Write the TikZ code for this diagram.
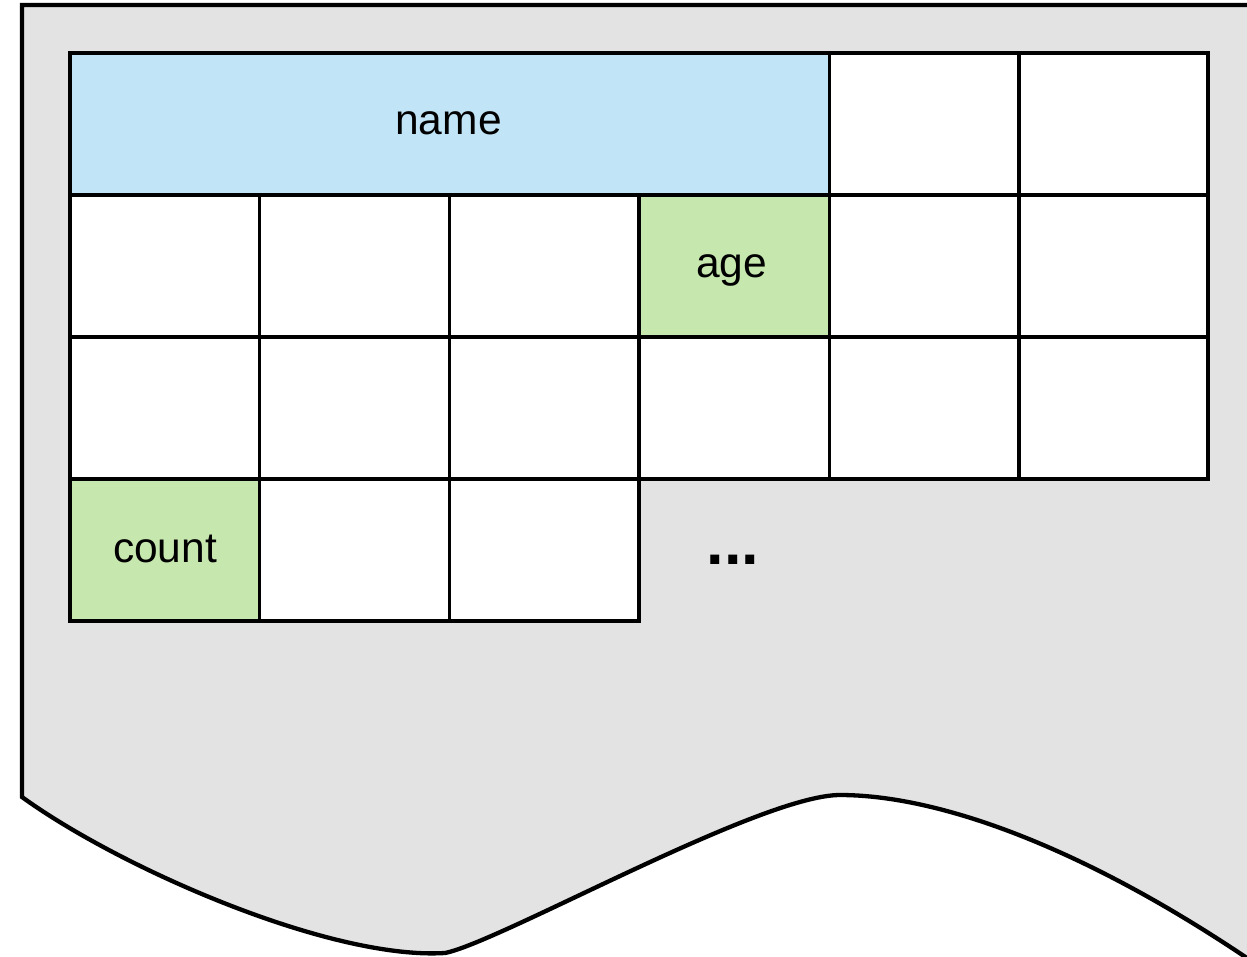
\documentclass[tikz,border=0pt]{standalone}
\usepackage{fontspec}
\setmainfont{Liberation Sans}
\definecolor{sheetgray}{HTML}{E3E3E3}
\definecolor{fieldblue}{HTML}{C1E4F6}
\definecolor{fieldgreen}{HTML}{C6E7AE}
\tikzset{
  outline/.style={line width=4.3pt, line join=miter},
  gridline/.style={line width=3.6pt, line cap=rect},
  celltext/.style={anchor=base, inner sep=0pt, font=\fontsize{42.5}{50}\selectfont},
}
\begin{document}
\begin{tikzpicture}[x=1pt, y=-1pt]
\useasboundingbox (0,0) rectangle (1247,956);
\clip (0,0) rectangle (1247,956);

% torn sheet behind the grid
\draw[outline, fill=sheetgray]
  (22,797) -- (22,5) -- (1320,5) -- (1320,1010)
  .. controls (1120,860) and (950,795) .. (840,795)
  .. controls (760,795) and (500,942) .. (445,953)
  .. controls (330,960) and (120,868) .. (22,797) -- cycle;

% coloured fields
\fill[fieldblue]  (70,53) rectangle (829.33,195);
\fill[fieldgreen] (639,195) rectangle (828.67,337);
\fill[fieldgreen] (70,479) rectangle (259.67,621);
\fill[white] (829.33,53) rectangle (1208,195);
\fill[white] (70,195) rectangle (639,337);
\fill[white] (828.67,195) rectangle (1208,337);
\fill[white] (70,337) rectangle (1208,479);
\fill[white] (259.67,479) rectangle (639,621);

% grid lines
\draw[gridline] (70,53) rectangle (1208,195);
\draw[gridline] (829.33,53) -- (829.33,479);
\draw[gridline] (1019,53) -- (1019,479);
\draw[gridline] (70,195) rectangle (1208,479);
\draw[gridline] (70,337) -- (1208,337);
\draw[gridline] (259.67,195) -- (259.67,621);
\draw[gridline] (449.33,195) -- (449.33,621);
\draw[gridline] (639,195) -- (639,621);
\draw[gridline] (70,479) -- (70,621) -- (639,621);

% field labels
\node[celltext] (name)  at (448.5,134) {name};
\node[celltext] (age)   at (731.5,277.5) {age};
\node[celltext] (count) at (165,562.5) {count};
\node[anchor=base, inner sep=0pt, font=\fontsize{63}{70}\selectfont\bfseries] (more) at (733,564) {...};
\end{tikzpicture}
\end{document}
